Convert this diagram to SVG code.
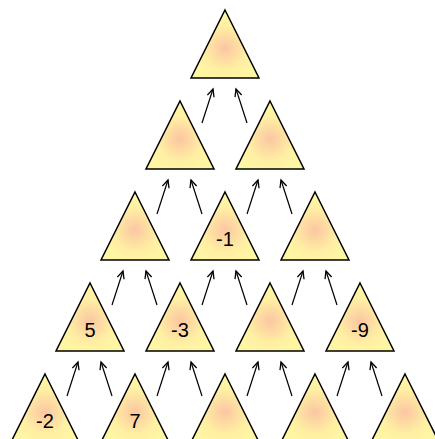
<svg xmlns="http://www.w3.org/2000/svg" width="435" height="439" viewBox="0 0 435 439">
<defs>
<radialGradient id="g" cx="50%" cy="56%" r="50%" fx="50%" fy="56%">
<stop offset="0" stop-color="#fbc6a2"/>
<stop offset="0.3" stop-color="#fdd9a2"/>
<stop offset="0.65" stop-color="#ffefa3"/>
<stop offset="1" stop-color="#fff6a4"/>
</radialGradient>
<marker id="ah" markerWidth="10" markerHeight="10" refX="8" refY="4" orient="auto" markerUnits="userSpaceOnUse">
<path d="M0.5,0.5 L8,4 L0.5,7.5" fill="none" stroke="#000" stroke-width="1.3"/>
</marker>
</defs>
<style>
.t{fill:url(#g);stroke:#000;stroke-width:1.5;stroke-linejoin:miter}
.l{font-family:"Liberation Sans",Arial,sans-serif;font-size:20px;fill:#000;text-anchor:middle}
.a{stroke:#000;stroke-width:1.2;fill:none;marker-end:url(#ah)}
</style>
<g id="connectors">
<line class="a" x1="202" y1="123" x2="213" y2="89"/><line class="a" x1="247" y1="123" x2="236" y2="89"/>
<line class="a" x1="157" y1="214" x2="168" y2="180"/><line class="a" x1="202" y1="214" x2="191" y2="180"/>
<line class="a" x1="247" y1="214" x2="258" y2="180"/><line class="a" x1="292" y1="214" x2="281" y2="180"/>
<line class="a" x1="112" y1="305" x2="123" y2="271"/><line class="a" x1="157" y1="305" x2="146" y2="271"/>
<line class="a" x1="202" y1="305" x2="213" y2="271"/><line class="a" x1="247" y1="305" x2="236" y2="271"/>
<line class="a" x1="292" y1="305" x2="303" y2="271"/><line class="a" x1="337" y1="305" x2="326" y2="271"/>
<line class="a" x1="67" y1="396" x2="78" y2="362"/><line class="a" x1="112" y1="396" x2="101" y2="362"/>
<line class="a" x1="157" y1="396" x2="168" y2="362"/><line class="a" x1="202" y1="396" x2="191" y2="362"/>
<line class="a" x1="247" y1="396" x2="258" y2="362"/><line class="a" x1="292" y1="396" x2="281" y2="362"/>
<line class="a" x1="337" y1="396" x2="348" y2="362"/><line class="a" x1="382" y1="396" x2="371" y2="362"/>
</g>
<g id="n0"><path class="t" d="M225,10 L259,78 L191,78 Z"/></g>
<g id="n1a"><path class="t" d="M180,101 L214,169 L146,169 Z"/></g>
<g id="n1b"><path class="t" d="M270,101 L304,169 L236,169 Z"/></g>
<g id="n2a"><path class="t" d="M135,192 L169,260 L101,260 Z"/></g>
<g id="n2b"><path class="t" d="M225,192 L259,260 L191,260 Z"/><text class="l" x="225" y="246">-1</text></g>
<g id="n2c"><path class="t" d="M315,192 L349,260 L281,260 Z"/></g>
<g id="n3a"><path class="t" d="M90,283 L124,351 L56,351 Z"/><text class="l" x="90" y="337">5</text></g>
<g id="n3b"><path class="t" d="M180,283 L214,351 L146,351 Z"/><text class="l" x="180" y="337">-3</text></g>
<g id="n3c"><path class="t" d="M270,283 L304,351 L236,351 Z"/></g>
<g id="n3d"><path class="t" d="M360,283 L394,351 L326,351 Z"/><text class="l" x="360" y="337">-9</text></g>
<g id="n4a"><path class="t" d="M45,374 L79,442 L11,442 Z"/><text class="l" x="45" y="428">-2</text></g>
<g id="n4b"><path class="t" d="M135,374 L169,442 L101,442 Z"/><text class="l" x="135" y="428">7</text></g>
<g id="n4c"><path class="t" d="M225,374 L259,442 L191,442 Z"/></g>
<g id="n4d"><path class="t" d="M315,374 L349,442 L281,442 Z"/></g>
<g id="n4e"><path class="t" d="M405,374 L439,442 L371,442 Z"/></g>
</svg>
